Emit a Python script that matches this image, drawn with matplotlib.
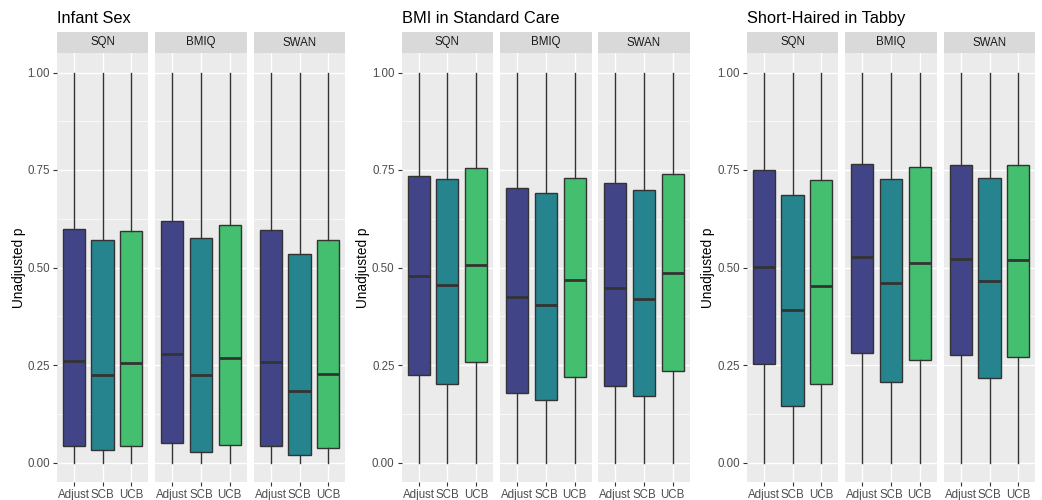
import numpy as np
import matplotlib as mpl
import matplotlib.pyplot as plt

mpl.rcParams["font.family"] = ["Liberation Sans", "DejaVu Sans"]

W, H = 1042, 500

titles = ["Infant Sex", "BMI in Standard Care", "Short-Haired in Tabby"]
methods = ["SQN", "BMIQ", "SWAN"]
groups = ["Adjust", "SCB", "UCB"]

# [panel][method][group] -> (q1, median, q3); whiskers run 0..1 everywhere
q1 = [
    [[0.043, 0.031, 0.043], [0.051, 0.028, 0.046], [0.043, 0.020, 0.036]],
    [[0.225, 0.202, 0.258], [0.179, 0.159, 0.220], [0.197, 0.171, 0.235]],
    [[0.253, 0.146, 0.202], [0.281, 0.207, 0.263], [0.276, 0.217, 0.271]],
]
med = [
    [[0.261, 0.225, 0.256], [0.279, 0.225, 0.269], [0.258, 0.184, 0.228]],
    [[0.478, 0.455, 0.506], [0.425, 0.404, 0.468], [0.448, 0.419, 0.486]],
    [[0.501, 0.391, 0.453], [0.527, 0.460, 0.512], [0.522, 0.465, 0.519]],
]
q3 = [
    [[0.598, 0.570, 0.593], [0.619, 0.575, 0.609], [0.596, 0.535, 0.570]],
    [[0.734, 0.726, 0.754], [0.703, 0.691, 0.729], [0.716, 0.698, 0.739]],
    [[0.749, 0.685, 0.724], [0.765, 0.726, 0.757], [0.762, 0.729, 0.762]],
]
whis_lo, whis_hi = 0.0, 1.0

colors = plt.cm.viridis([0.2, 0.45, 0.7])

# facet pixel extents (x0, x1) for each panel
facet_x = [
    [(57, 148), (155, 247), (254, 345)],
    [(401.5, 493), (500, 592), (598, 690)],
    [(747, 838), (845, 937), (944, 1035)],
]
ylab_x = [19, 363, 708]
plot_top, plot_bot = 53, 482
strip_top = 32


def fig_rect(x0, x1, ytop, ybot):
    return [x0 / W, 1 - ybot / H, (x1 - x0) / W, (ybot - ytop) / H]


fig = plt.figure(figsize=(W / 100, H / 100), dpi=100)

for p in range(3):
    for m in range(3):
        x0, x1 = facet_x[p][m]
        ax = fig.add_axes(fig_rect(x0, x1, plot_top, plot_bot))
        ax.set_facecolor("#EBEBEB")
        for s in ax.spines.values():
            s.set_visible(False)

        stats = []
        for g in range(3):
            stats.append(dict(med=med[p][m][g], q1=q1[p][m][g], q3=q3[p][m][g],
                              whislo=whis_lo, whishi=whis_hi, fliers=[]))
        art = ax.bxp(stats, positions=[1, 2, 3], widths=0.78, patch_artist=True,
                     showcaps=False, showfliers=False,
                     boxprops=dict(edgecolor="#333333", linewidth=1.0),
                     whiskerprops=dict(color="#333333", linewidth=1.0),
                     medianprops=dict(color="#333333", linewidth=2.0,
                                      solid_capstyle="butt"),
                     zorder=3)
        for box, c in zip(art["boxes"], colors):
            box.set_facecolor(c)

        ax.set_xlim(0.4, 3.6)
        ax.set_ylim(-0.05, 1.05)
        ax.set_yticks([0, 0.25, 0.5, 0.75, 1.0])
        ax.set_yticks([0.125, 0.375, 0.625, 0.875], minor=True)
        ax.set_xticks([1, 2, 3])
        ax.set_xticklabels(groups)
        ax.grid(True, which="major", color="white", linewidth=1.0, zorder=0)
        ax.grid(True, which="minor", axis="y", color="white", linewidth=0.5, zorder=0)
        ax.set_axisbelow(True)
        ax.tick_params(axis="both", which="major", length=3, width=0.8,
                       color="#333333", labelsize=8.3, labelcolor="#4D4D4D", pad=2)
        ax.tick_params(axis="both", which="minor", length=0)
        if m == 0:
            ax.set_yticklabels(["0.00", "0.25", "0.50", "0.75", "1.00"])
        else:
            ax.tick_params(axis="y", which="major", length=0, labelleft=False)

        # strip
        sax = fig.add_axes(fig_rect(x0, x1, strip_top, plot_top))
        sax.set_facecolor("#D9D9D9")
        sax.set_xticks([])
        sax.set_yticks([])
        for s in sax.spines.values():
            s.set_visible(False)
        sax.text(0.5, 0.5, methods[m], ha="center", va="center",
                 fontsize=8.3, color="#1A1A1A", transform=sax.transAxes)

    fig.text(facet_x[p][0][0] / W, 1 - 23 / H, titles[p], ha="left",
             va="baseline", fontsize=11.8, color="black")
    fig.text(ylab_x[p] / W, 1 - (plot_top + plot_bot) / 2 / H, "Unadjusted p",
             rotation=90, ha="center", va="center", fontsize=9.8, color="black")

fig.savefig("out.png", dpi=100)
